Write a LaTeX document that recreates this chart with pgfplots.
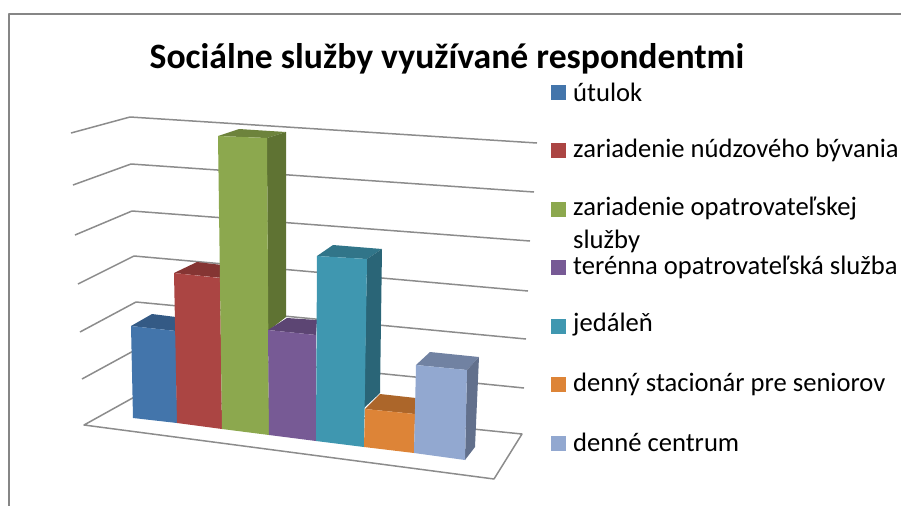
\documentclass[border=0pt]{standalone}
\usepackage{pgfplots}
\pgfplotsset{compat=1.18}
\usepackage{fontspec}
\setmainfont{Carlito}
\definecolor{cB}{HTML}{4375AB}\definecolor{cBt}{HTML}{345A85}
\definecolor{cR}{HTML}{AB4543}\definecolor{cRt}{HTML}{853533}
\definecolor{cG}{HTML}{8CA84E}\definecolor{cGt}{HTML}{6D833C}\definecolor{cGs}{HTML}{5F7333}
\definecolor{cP}{HTML}{775A95}\definecolor{cPt}{HTML}{5C4573}
\definecolor{cT}{HTML}{3F97B0}\definecolor{cTt}{HTML}{317589}\definecolor{cTs}{HTML}{2A6577}
\definecolor{cO}{HTML}{DD8437}\definecolor{cOt}{HTML}{AC662A}
\definecolor{cL}{HTML}{92A8D0}\definecolor{cLt}{HTML}{7182A2}\definecolor{cLs}{HTML}{62708C}
\definecolor{gridc}{HTML}{8C8C8C}
\definecolor{frm}{HTML}{868686}
\begin{document}
\begin{tikzpicture}
\path[use as bounding box] (0,0) rectangle (901bp,506bp);
\begin{axis}[
  at={(0,0)},anchor=south west,
  x=1bp,y=1bp,scale only axis,
  xmin=0,xmax=901,ymin=0,ymax=506,y dir=reverse,
  axis lines=none,clip=true,
  every axis plot/.append style={line join=round},
]
% frame
\addplot[color=frm,line width=2bp] coordinates {(9,506)(9,14)(901,14)};
% grid: side wall + back wall
\addplot[color=gridc,line width=1.5bp] coordinates {(71,133)(130,117)(537,143)};
\addplot[color=gridc,line width=1.5bp] coordinates {(73,185)(131,164)(534,192)};
\addplot[color=gridc,line width=1.5bp] coordinates {(75,235)(132,211)(530,241)};
\addplot[color=gridc,line width=1.5bp] coordinates {(78,284)(134,256)(528,291)};
\addplot[color=gridc,line width=1.5bp] coordinates {(80,332)(136,302)(526,339)};
\addplot[color=gridc,line width=1.5bp] coordinates {(82,379)(137,349)(524,388)};
% floor
\addplot[color=gridc,line width=1.5bp] coordinates {(84,425)(138,395)(522,434)(494,479)(84,425)} --cycle;
% blue
\addplot[fill=cBt,draw=none] coordinates {(131,326)(152,314)(176,317)(176,331)} --cycle;
\addplot[fill=cB,draw=none] coordinates {(131,326)(176,331)(177,423)(133,418)} --cycle;
% red
\addplot[fill=cRt,draw=none] coordinates {(174,273)(197,262)(222,265)(222,278)} --cycle;
\addplot[fill=cR,draw=none] coordinates {(174,273)(220,278)(222,429)(177,423)} --cycle;
% green
\addplot[fill=cGt,draw=none] coordinates {(218,136)(239,129)(286,132)(267,138)} --cycle;
\addplot[fill=cGs,draw=none] coordinates {(267,138)(286,132)(286,317)(268,331)} --cycle;
\addplot[fill=cG,draw=none] coordinates {(218,136)(267,138)(269,435)(222,429)} --cycle;
% purple
\addplot[fill=cPt,draw=none] coordinates {(268,330)(287,318)(317,320)(316,335)} --cycle;
\addplot[fill=cP,draw=none] coordinates {(268,330)(316,335)(316,441)(269,435)} --cycle;
% teal
\addplot[fill=cTt,draw=none] coordinates {(317,256)(333,245)(382,249)(367,259)} --cycle;
\addplot[fill=cTs,draw=none] coordinates {(367,259)(382,249)(380,393)(364,408)} --cycle;
\addplot[fill=cT,draw=none] coordinates {(317,256)(367,259)(364,447)(316,441)} --cycle;
% orange
\addplot[fill=cOt,draw=none] coordinates {(365,409)(380,394)(416,398)(415,414)} --cycle;
\addplot[fill=cO,draw=none] coordinates {(365,409)(415,414)(414,453)(364,447)} --cycle;
% light blue
\addplot[fill=cLt,draw=none] coordinates {(416,365)(430,352)(479,357)(467,370)} --cycle;
\addplot[fill=cLs,draw=none] coordinates {(467,370)(479,357)(475,447)(465,460)} --cycle;
\addplot[fill=cL,draw=none] coordinates {(416,365)(467,370)(465,460)(414,453)} --cycle;
% legend swatches
\addplot[fill=cB,draw=none] coordinates {(551,85)(566,85)(566,100)(551,100)} --cycle;
\addplot[fill=cR,draw=none] coordinates {(551,143)(566,143)(566,158)(551,158)} --cycle;
\addplot[fill=cG,draw=none] coordinates {(551,202)(566,202)(566,217)(551,217)} --cycle;
\addplot[fill=cP,draw=none] coordinates {(551,260)(566,260)(566,275)(551,275)} --cycle;
\addplot[fill=cT,draw=none] coordinates {(551,319)(566,319)(566,334)(551,334)} --cycle;
\addplot[fill=cO,draw=none] coordinates {(551,377)(566,377)(566,392)(551,392)} --cycle;
\addplot[fill=cL,draw=none] coordinates {(551,436)(566,436)(566,451)(551,451)} --cycle;
% text
\node[anchor=center,inner sep=0pt,font=\fontsize{35.8}{40}\selectfont\bfseries] at (axis cs:447,58.5) {Sociálne služby využívané respondentmi};
\foreach \y/\t in {92/útulok,150/zariadenie núdzového bývania,209/zariadenie opatrovateľskej,241/služby,267/terénna opatrovateľská služba,325/jedáleň,384/denný stacionár pre seniorov,442/denné centrum}{
  \edef\tmp{\noexpand\node[anchor=west,inner sep=0pt,font=\noexpand\fontsize{26.7}{30}\noexpand\selectfont] at (axis cs:573,\y) {\t};}\tmp
}
\end{axis}
\end{tikzpicture}
\end{document}
